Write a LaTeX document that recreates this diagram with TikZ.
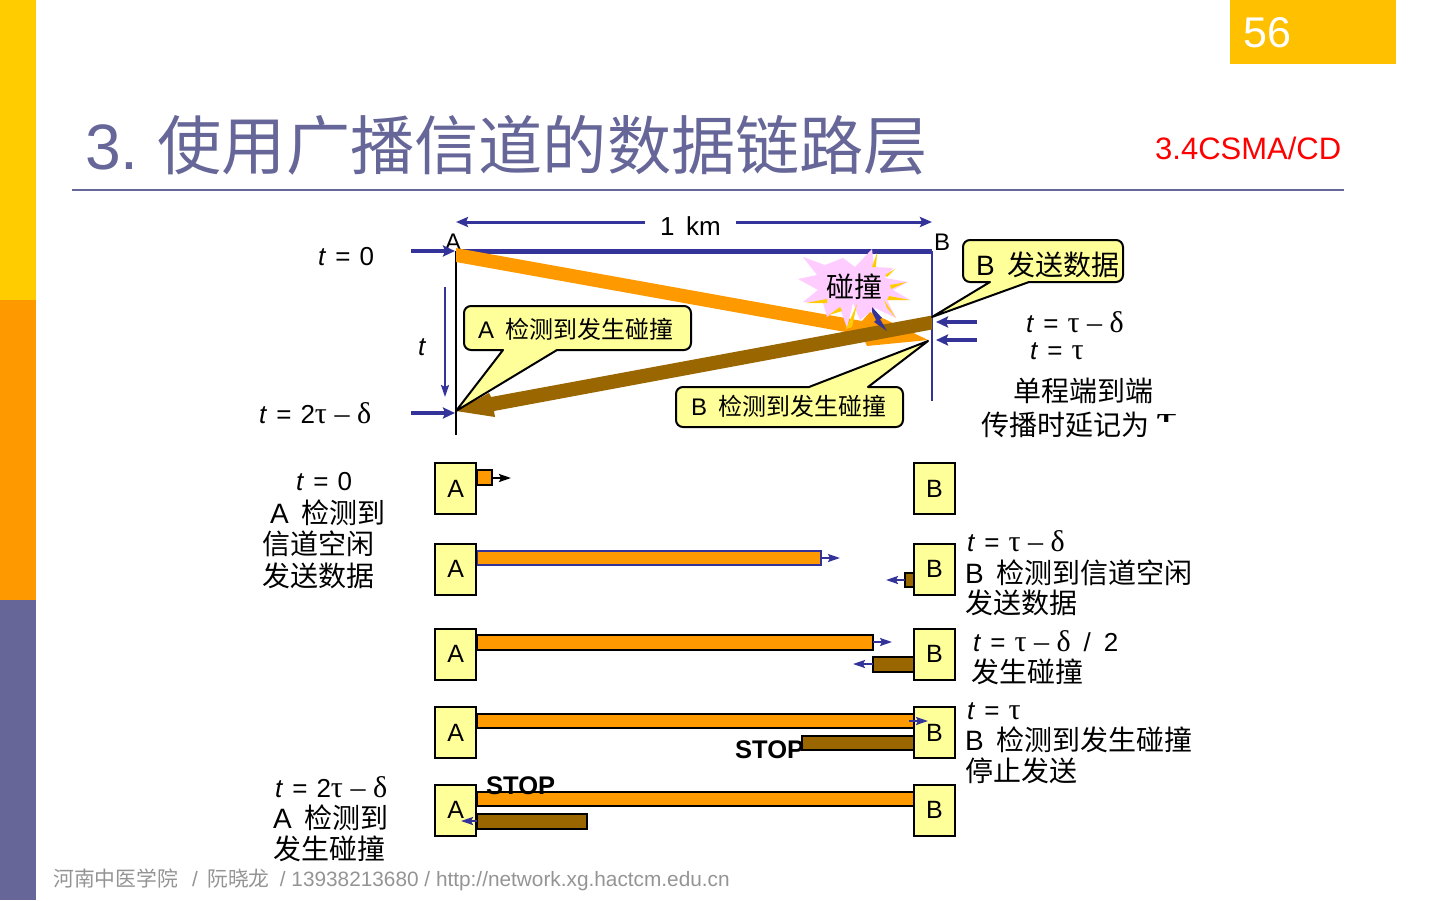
\documentclass[tikz,border=0pt]{standalone}
\usepackage{fontspec}
\setmainfont{Liberation Sans}
\newfontfamily\zhfont{Noto Sans CJK SC}
\newfontfamily\symfont{Liberation Serif}
\usetikzlibrary{arrows, arrows.meta, calc, positioning}

\definecolor{bandyellow}{HTML}{FFCC00}
\definecolor{bandorange}{HTML}{FF9900}
\definecolor{bandblue}{HTML}{666699}
\definecolor{pagebox}{HTML}{FFC000}
\definecolor{linkblue}{HTML}{333399}
\definecolor{framebrown}{HTML}{996600}
\definecolor{stnyellow}{HTML}{FFFF99}
\definecolor{burstpink}{HTML}{FFCCFF}

\newcommand{\zh}[1]{{\zhfont #1}}
\newcommand{\gp}{\hspace{0.45em}}
\newcommand{\eq}{\hspace{9pt}=\hspace{9pt}}
\newcommand{\ta}{{\symfont\fontsize{30}{30}\selectfont τ}}
\newcommand{\de}{{\symfont\fontsize{30}{30}\selectfont δ}}
\newcommand{\mi}{\hspace{7.5pt}{\symfont\fontsize{30}{30}\selectfont –}\hspace{7.5pt}}

\tikzset{
	txt/.style={anchor=base west, inner sep=0pt, font=\fontsize{26}{30}\selectfont},
	small/.style={anchor=base west, inner sep=0pt, font=\fontsize{24}{28}\selectfont},
	bigzh/.style={anchor=base west, inner sep=0pt, font=\fontsize{28}{30}\selectfont},
	stn/.style={draw=black, line width=2pt, fill=stnyellow, minimum width=41pt, minimum height=51pt, inner sep=0pt, font=\fontsize{25}{28}\selectfont},
	callout/.style={draw=black, line width=2pt, fill=stnyellow, line join=round},
	orangebar/.style={draw=black, line width=2pt, fill=bandorange},
	brownbar/.style={draw=black, line width=2pt, fill=framebrown},
	thickarrow/.style={-{Stealth[length=12pt, width=11pt, inset=2pt]}, draw=linkblue, fill=linkblue, line width=3.5pt},
	thinarrow/.style={-{Stealth[length=12pt, width=8pt, inset=2pt]}, draw=linkblue, fill=linkblue, line width=2pt},
	kmarrow/.style={-{Stealth[length=12pt, width=10pt, inset=2pt]}, draw=linkblue, fill=linkblue, line width=3pt},
	stopmark/.style={anchor=base west, inner sep=0pt, font=\bfseries\fontsize{25.5}{30}\selectfont}
}

\begin{document}
\begin{tikzpicture}[x=1pt, y=-1pt]

	\useasboundingbox (0,0) rectangle (1440,900);

	% slide frame
	\fill[bandyellow] (0,0) rectangle (36,300);
	\fill[bandorange] (0,300) rectangle (36,600);
	\fill[bandblue] (0,600) rectangle (36,900);
	\fill[pagebox] (1230,0) rectangle (1396,64);
	\node[anchor=base west, inner sep=0pt, text=white, font=\fontsize{43}{48}\selectfont] (pageno) at (1243.5,47) {56};
	\node[anchor=base west, inner sep=0pt, text=bandblue, font=\fontsize{64.2}{70}\selectfont] (title) at (85,169) {3.\hspace{19pt}\zh{使用广播信道的数据链路层}};
	\node[anchor=base west, inner sep=0pt, text=red, font=\fontsize{31}{34}\selectfont] (subtitle) at (1155,159) {3.4CSMA/CD};
	\draw[bandblue, line width=2pt] (72,189.5) -- (1344,189.5);
	\node[anchor=base west, inner sep=0pt, text=black!42, font=\fontsize{20.8}{24}\selectfont] (footer) at (53,886) {\zh{河南中医学院}\hspace{5pt} \,/\, \zh{阮晓龙}\hspace{1pt} \,/ 13938213680 / http://network.xg.hactcm.edu.cn};

	% time line diagram
	\node[txt] (kmlabel) at (660,235) {1\ \,km};
	\coordinate (kmleft) at (645,222);
	\coordinate (kmright) at (736,222);
	\coordinate (stationa) at (456,251);
	\coordinate (stationb) at (932,251);
	\draw[kmarrow] (kmleft) -- (stationa |- kmleft);
	\draw[kmarrow] (kmright) -- (stationb |- kmright);

	\node[small] (labela) at (445,250) {A};
	\node[small] (labelb) at (934,250) {B};

	\draw[black, line width=2pt] (stationa) -- (456,435);
	\draw[linkblue, line width=2pt] (stationb) -- (932,401);
	\draw[linkblue, line width=5pt] (stationa) -- (stationb);

	\fill[bandorange] (456,248) -- (862,321) -- (870,312) -- (928,340) -- (867,346) -- (862,335) -- (456,262) -- cycle;

	% collision burst
	\fill[burstpink] (803,257) -- (825,265) -- (843,258) -- (855,267) -- (872,249) -- (874,267) -- (893,268) -- (885,278) -- (908,282) -- (893,290) -- (910,300) -- (887,300) -- (896,318) -- (875,308) -- (860,320) -- (853,303) -- (847,328) -- (840,308) -- (827,317) -- (823,303) -- (803,302) -- (818,290) -- (798,279) -- (817,275) -- cycle;
	\fill[bandyellow] (877,253) -- (872,267) -- (876,267) -- cycle;
	\fill[bandyellow] (895,269) -- (885,275) -- (887,277) -- cycle;
	\fill[bandyellow] (907,282) -- (890,285) -- (891,289) -- cycle;
	\fill[bandyellow] (910,300) -- (889,296) -- (887,300) -- cycle;
	\fill[bandyellow] (896,318) -- (884,300) -- (887,308) -- cycle;
	\fill[bandyellow] (857,304) -- (846,329) -- (852,327) -- cycle;
	\fill[bandyellow] (840,307) -- (829,315) -- (842,311) -- cycle;
	\fill[bandyellow] (806,303) -- (827,299) -- (827,303) -- cycle;
	\node[bigzh] (burst) at (826,297) {\zh{碰撞}};

	\fill[framebrown] (932,315.5) -- (932,329.5) -- (494,411) -- (495,417) -- (456,411) -- (489,393) -- (491,397) -- cycle;
	\fill[linkblue] (872,307) -- (882,318) -- (880,319) -- (887,331) -- (874,322) -- (876,320) -- (872,312) -- cycle;

	\coordinate (tzeroin) at (411,251);
	\coordinate (treturnin) at (411,413);
	\coordinate (tdeltain) at (977,322);
	\coordinate (ttauin) at (977,340);
	\draw[thickarrow] (tzeroin) -- (455,251);
	\draw[thickarrow] (treturnin) -- (455,413);
	\draw[thickarrow] (tdeltain) -- (936,322);
	\draw[thickarrow] (ttauin) -- (936,340);
	\draw[thinarrow] (445,287) -- (445,397);

	\node[txt] (tzero) at (318,265) {\textit{t}\eq 0};
	\node[txt] (tspan) at (418,355) {\textit{t}};
	\node[txt] (treturn) at (259,423) {\textit{t}\eq 2\ta\mi\de};
	\node[txt] (tdelta) at (1026,332) {\textit{t}\eq \ta\mi\de};
	\node[txt] (ttau) at (1030,359) {\textit{t}\eq \ta};

	% callouts
	\draw[callout] (456,411) -- (503,350) [rounded corners=7pt] -- (464,350) -- (464,306) -- (691,306) -- (691,350) [sharp corners] -- (557,350) -- cycle;
	\node[small] (adetect) at (478,338) {A\gp\zh{检测到发生碰撞}};
	\draw[callout] (928,341) -- (868,387) [rounded corners=7pt] -- (903,387) -- (903,427) -- (676,427) -- (676,387) [sharp corners] -- (809,387) -- cycle;
	\node[small] (bdetect) at (691,415) {B\gp\zh{检测到发生碰撞}};
	\draw[callout] (932,317) -- (990,282) [rounded corners=7pt] -- (963,282) -- (963,240) -- (1123,240) -- (1123,282) [sharp corners] -- (1029,282) -- cycle;
	\node[bigzh] (bsend) at (976,275) {B\gp\zh{发送数据}};

	\node[bigzh] (oneway) at (1013,401) {\zh{单程端到端}};
	\node[bigzh] (delayname) at (981,435) {\zh{传播时延记为}};
	\begin{scope}
		\clip (1154,414) rectangle (1178,421.5);
		\node[anchor=base west, inner sep=0pt, font=\symfont\fontsize{52}{56}\selectfont] (delaytau) at (1156,437) {τ};
	\end{scope}

	% frames on the bus
	\draw[orangebar] (477,470) rectangle (492,485);
	\draw[orangebar, draw=linkblue] (477,551) rectangle (821,565);
	\draw[brownbar] (905,573) rectangle (915,587);
	\draw[orangebar] (477,635) rectangle (873,650);
	\draw[brownbar] (873,657) rectangle (915,672);
	\draw[orangebar] (477,714) rectangle (915,728);
	\draw[brownbar] (802,736) rectangle (915,750);
	\draw[orangebar] (477,792) rectangle (915,806);
	\draw[brownbar] (477,814) rectangle (587,829);

	\node[stopmark] (stopb) at (735,758) {STOP};
	\node[stopmark] (stopa) at (486,794) {STOP};

	\foreach \row/\yc in {1/488.5, 2/569, 3/654, 4/732.5, 5/810}
	{
		\node[stn] (a\row) at (455.8,\yc) {\raisebox{-1.5pt}{A}};
		\node[stn] (b\row) at (934.5,\yc) {\raisebox{-1pt}{B}};
	}

	\draw[-{Stealth[length=12pt, width=8pt, inset=2pt]}, line width=2pt] (492,478) -- (511,478);
	\draw[thinarrow] (821,558) -- (840,558);
	\draw[thinarrow] (905,580) -- (886,580);
	\draw[thinarrow] (873,642) -- (892,642);
	\draw[thinarrow] (873,664) -- (853,664);
	\draw[thinarrow] (909,721) -- (928,721);
	\draw[thinarrow] (477,821) -- (461,821);

	% step captions
	\node[txt] (stepa) at (296,490) {\textit{t}\eq 0};
	\node[bigzh] (stepb) at (270,523) {A\gp\zh{检测到}};
	\node[bigzh] (stepc) at (262,554) {\zh{信道空闲}};
	\node[bigzh] (stepd) at (262,586) {\zh{发送数据}};

	\node[txt] (stepe) at (967,551) {\textit{t}\eq \ta\mi\de};
	\node[bigzh] (stepf) at (965,583) {B\gp\zh{检测到信道空闲}};
	\node[bigzh] (stepg) at (965,613) {\zh{发送数据}};

	\node[txt] (steph) at (973,651) {\textit{t}\eq \ta\mi\de\hspace{13pt}/\hspace{13pt}2};
	\node[bigzh] (stepi) at (971,682) {\zh{发生碰撞}};

	\node[txt] (stepj) at (967,719) {\textit{t}\eq \ta};
	\node[bigzh] (stepk) at (965,750) {B\gp\zh{检测到发生碰撞}};
	\node[bigzh] (stepl) at (965,781) {\zh{停止发送}};

	\node[txt] (stepm) at (275,797) {\textit{t}\eq 2\ta\mi\de};
	\node[bigzh] (stepn) at (273,828) {A\gp\zh{检测到}};
	\node[bigzh] (stepo) at (273,859) {\zh{发生碰撞}};

\end{tikzpicture}
\end{document}
